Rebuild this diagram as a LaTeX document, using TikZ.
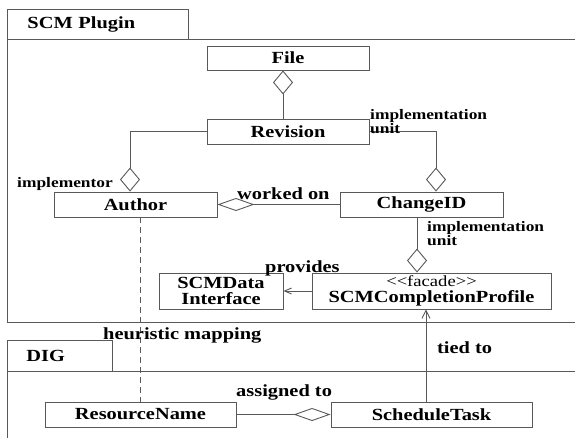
\documentclass[tikz,border=0pt]{standalone}
\usepackage{fontspec}
\setmainfont{Liberation Serif}[FakeStretch=1.2]
\usetikzlibrary{arrows.meta}
\begin{document}
\begin{tikzpicture}[
    x=1pt, y=-1pt,
    font=\fontsize{17}{12}\selectfont\bfseries,
    line/.style={draw=black!65, line width=0.9pt},
    cls/.style={line, fill=white, minimum width=#1, minimum height=25pt,
                inner sep=0pt, align=center},
    tab/.style={line, anchor=north west, inner ysep=0pt, align=left},
    lbl/.style={inner sep=0pt},
    small/.style={lbl, font=\fontsize{14.5}{11.5}\selectfont\bfseries, align=left},
    aggv/.style={line, -{Diamond[open, length=24pt, width=20pt]}},
    aggh/.style={line, -{Diamond[open, length=37pt, width=13pt]}},
    tip/.style={line, -{Straight Barb[length=8pt, width=8pt]}},
]
\useasboundingbox (0,0) rectangle (575,437);

% packages
\node[tab, minimum height=30pt, inner xsep=20pt, text width=141pt] (scmtab) at (7,9) {SCM Plugin};
\draw[line] (580,39) -- (7,39) -- (7,322) -- (580,322);
\node[tab, minimum height=31pt, inner xsep=19pt, text width=67pt] (digtab) at (7,340) {DIG};
\draw[line] (580,371) -- (7,371) -- (7,440);

% classes
\node[cls=162pt, minimum height=24pt] (file)     at (288,58)    {File};
\node[cls=162pt]                      (revision) at (288,131.5) {Revision};
\node[cls=163pt]                      (author)   at (135.5,204.5) {Author};
\node[cls=163pt]                      (changeid) at (421.5,204.5) {ChangeID};
\node[cls=124pt, minimum height=36pt] (scmdata)  at (221,291)   {SCMData\\[2pt]Interface};
\node[cls=239pt, minimum height=36pt, font=\fontsize{17}{16}\selectfont\bfseries]
                                      (profile)  at (431.5,291)
    {{\mdseries\fontsize{15.5}{16}\selectfont{<}{<}facade{>}{>}}\\SCMCompletionProfile};
\node[cls=191pt]                      (resource) at (140.5,414.5) {ResourceName};
\node[cls=201pt]                      (task)     at (431.5,414.5) {ScheduleTask};

% relations
\draw[aggv] ([xshift=-5pt]revision.north) -- ([xshift=-5pt]file.south);
\draw[aggv] (revision.west) -| ([xshift=-5.5pt]author.north);
\draw[aggv] (revision.east) -| ([xshift=14.5pt]changeid.north);
\draw[aggh] (changeid.west) -- (author.east);
\draw[aggv] ([xshift=-4.5pt]changeid.south) -- ([xshift=-4.5pt]changeid.south |- profile.north);
\draw[line, -{Straight Barb[length=7pt, width=6pt]}] (profile.west) -- (scmdata.east);
\draw[tip] ([xshift=-5.5pt]task.north) -- ([xshift=-5.5pt]task.north |- profile.south);
\draw[line, dash pattern=on 6pt off 4pt] ([xshift=4.5pt]author.south) -- ([xshift=4.5pt]author.south |- resource.north);
\draw[aggh] (resource.east) -- (task.west);

% labels
\node[small, anchor=north west] (revunit) at (370,109) {implementation\\unit};
\node[small, anchor=base west]  (implr)   at (17,187)  {implementor};
\node[lbl, anchor=base west]    (worked)  at (237,199) {worked on};
\node[small, anchor=north west] (cidunit) at (427,221) {implementation\\unit};
\node[lbl, anchor=base west]    (prov)    at (265,272) {provides};
\node[lbl, anchor=base west]    (heur)    at (103,339) {heuristic mapping};
\node[lbl, anchor=base west]    (tied)    at (437,353) {tied to};
\node[lbl, anchor=base west]    (assign)  at (236,396) {assigned to};
\end{tikzpicture}
\end{document}
